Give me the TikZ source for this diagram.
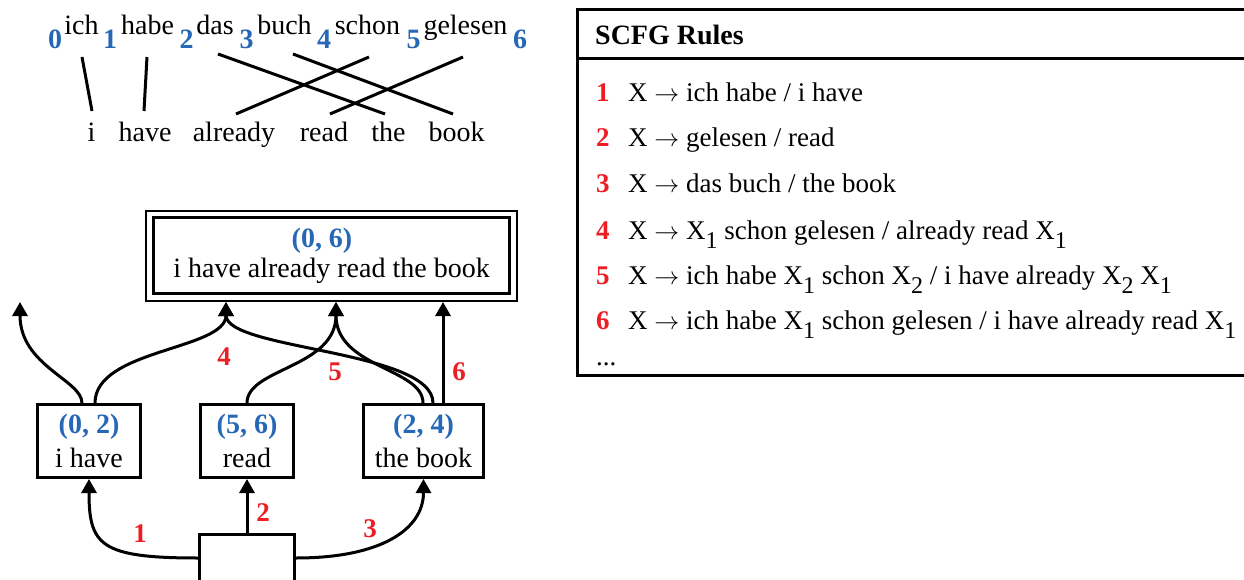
\documentclass[tikz,border=0pt]{standalone}
\usepackage{fontspec}
\setmainfont{Liberation Serif}
\usetikzlibrary{arrows.meta,calc}

\definecolor{idxblue}{RGB}{38,104,182}
\definecolor{rulered}{RGB}{236,30,36}

% blue span indices, red rule numbers, subscripted nonterminal
\newcommand{\idx}[1]{\textcolor{idxblue}{\bfseries #1}}
\newcommand{\rulenum}[1]{\makebox[32pt][l]{\textcolor{rulered}{\bfseries #1}}}
\newcommand{\Xsub}[1]{X\raisebox{-9pt}{\fontsize{24}{24}\selectfont #1}}
\newcommand{\ra}{$\rightarrow$}

\begin{document}
\begin{tikzpicture}[x=1pt,y=-1pt,
  every node/.style={font=\fontsize{28}{34}\selectfont, inner sep=0pt},
  word/.style={anchor=base},
  idxnum/.style={anchor=base, font=\fontsize{28}{34}\selectfont\bfseries, text=idxblue},
  wordlink/.style={line width=3pt},
  spanbox/.style={draw, line width=3pt, align=center, minimum height=73pt},
  conn/.style={line width=3pt, -{Triangle[length=14pt,width=15pt]}},
  rlabel/.style={font=\fontsize{27}{30}\selectfont\bfseries, text=rulered},
  rulerow/.style={anchor=base west, font=\fontsize{27}{32}\selectfont},
  panel/.style={line width=3pt}
]
\useasboundingbox (0,0) rectangle (1244,580);

% ---- source sentence with span positions
\node[idxnum] (n0) at (55,49) {0};
\node[word] (gich) at (81.5,35) {ich};
\node[idxnum] (n1) at (110,49) {1};
\node[word] (ghabe) at (147.5,35) {habe};
\node[idxnum] (n2) at (186.5,49) {2};
\node[word] (gdas) at (215,35) {das};
\node[idxnum] (n3) at (246.5,49) {3};
\node[word] (gbuch) at (284.5,35) {buch};
\node[idxnum] (n4) at (324,49) {4};
\node[word] (gschon) at (367.5,35) {schon};
\node[idxnum] (n5) at (413.5,49) {5};
\node[word] (ggelesen) at (465.5,35) {gelesen};
\node[idxnum] (n6) at (520,49) {6};

% ---- target sentence
\node[word] (ei) at (91.5,142) {i};
\node[word] (ehave) at (145,142) {have};
\node[word] (ealready) at (234,142) {already};
\node[word] (eread) at (324,142) {read};
\node[word] (ethe) at (388.5,142) {the};
\node[word] (ebook) at (456.5,142) {book};

% ---- word alignment links
\draw[wordlink] ([shift={(0.5,22)}]gich.base) -- ([shift={(0.5,-31)}]ei.base);
\draw[wordlink] ([shift={(-0.5,22)}]ghabe.base) -- ([shift={(-1,-31)}]ehave.base);
\draw[wordlink] ([shift={(3,19)}]gdas.base) -- ([shift={(-3.5,-28)}]ethe.base);
\draw[wordlink] ([shift={(8.5,19)}]gbuch.base) -- ([shift={(-3.5,-28)}]ebook.base);
\draw[wordlink] ([shift={(1.5,22)}]gschon.base) -- ([shift={(2,-28)}]ealready.base);
\draw[wordlink] ([shift={(-2.5,22)}]ggelesen.base) -- ([shift={(6,-28)}]eread.base);

% ---- hypergraph nodes
% goal node: thick inner frame, thin outer frame; anchors sit on the outer frame
\node[draw, line width=3pt, outer sep=8.5pt,
      minimum width=356pt, minimum height=76pt, align=center,
      font=\fontsize{28}{30}\selectfont] (root) at (331.5,255.5)
      {\idx{(0, 6)}\hspace*{19pt}\\i have already read the book};
\draw[line width=2pt] ([shift={(1,2)}]root.north west) rectangle ([shift={(-1,-1)}]root.south east);

\node[spanbox, minimum width=103pt] (ihave) at (89,441) {\idx{(0, 2)}\\i have};
\node[spanbox, minimum width=93pt] (read) at (247,441) {\idx{(5, 6)}\\read};
\node[spanbox, minimum width=120pt] (book) at (423.5,441) {\idx{(2, 4)}\\the book};
\node[draw, line width=3pt, minimum width=95pt, minimum height=48pt] (src) at (247,558) {};
\coordinate (lefttip) at (20,302);

% ---- hyperedges
\draw[conn] (src.north) -- (read.south);
\draw[conn] (src.west) .. controls +(-98,0) and +(0,66) .. (ihave.south);
\draw[conn] (src.east) .. controls +(84,0) and +(0,51) .. (book.south);

\draw[conn] ([xshift=-7pt]ihave.north) .. controls +(0,-23) and +(0,64) .. (lefttip);
\draw[conn] ([xshift=6pt]ihave.north) .. controls +(0,-54) and +(0,48) .. ([xshift=-105.5pt]root.south);
\draw[conn] ([xshift=9.5pt]book.north) .. controls +(0,-53) and +(0,48) .. ([xshift=-105.5pt]root.south);
\draw[conn] (read.north) .. controls +(0,-35) and +(0,66) .. ([xshift=4.5pt]root.south);
\draw[conn] ([xshift=-0.5pt]book.north) .. controls +(0,-35) and +(0,66) .. ([xshift=4.5pt]root.south);
\draw[conn] ([xshift=19.5pt]book.north) -- ([xshift=111.5pt]root.south);

% ---- rule labels on hyperedges
\node[rlabel] (lab1) at (140,534) {1};
\node[rlabel] (lab2) at (263,513) {2};
\node[rlabel] (lab3) at (370,529) {3};
\node[rlabel] (lab4) at (224,357) {4};
\node[rlabel] (lab5) at (335,372) {5};
\node[rlabel] (lab6) at (459,372) {6};

% ---- rule table
\draw[panel] (1262,10) -- (577,10) -- (577,375) -- (1262,375);
\draw[panel] (577,59) -- (1262,59);
\node[rulerow, font=\fontsize{28}{34}\selectfont\bfseries] (hdr) at (595,45) {SCFG Rules};
\node[rulerow] (r1) at (596,102) {\rulenum{1}X \ra{} ich habe / i have};
\node[rulerow] (r2) at (596,147) {\rulenum{2}X \ra{} gelesen / read};
\node[rulerow] (r3) at (596,193) {\rulenum{3}X \ra{} das buch / the book};
\node[rulerow] (r4) at (596,239) {\rulenum{4}X \ra{} \Xsub{1} schon gelesen / already read \Xsub{1}};
\node[rulerow] (r5) at (596,284) {\rulenum{5}X \ra{} ich habe \Xsub{1} schon \Xsub{2} / i have already \Xsub{2} \Xsub{1}};
\node[rulerow] (r6) at (596,329) {\rulenum{6}X \ra{} ich habe \Xsub{1} schon gelesen / i have already read \Xsub{1}};
\node[rulerow] (rdots) at (596,365) {...};
\end{tikzpicture}
\end{document}
